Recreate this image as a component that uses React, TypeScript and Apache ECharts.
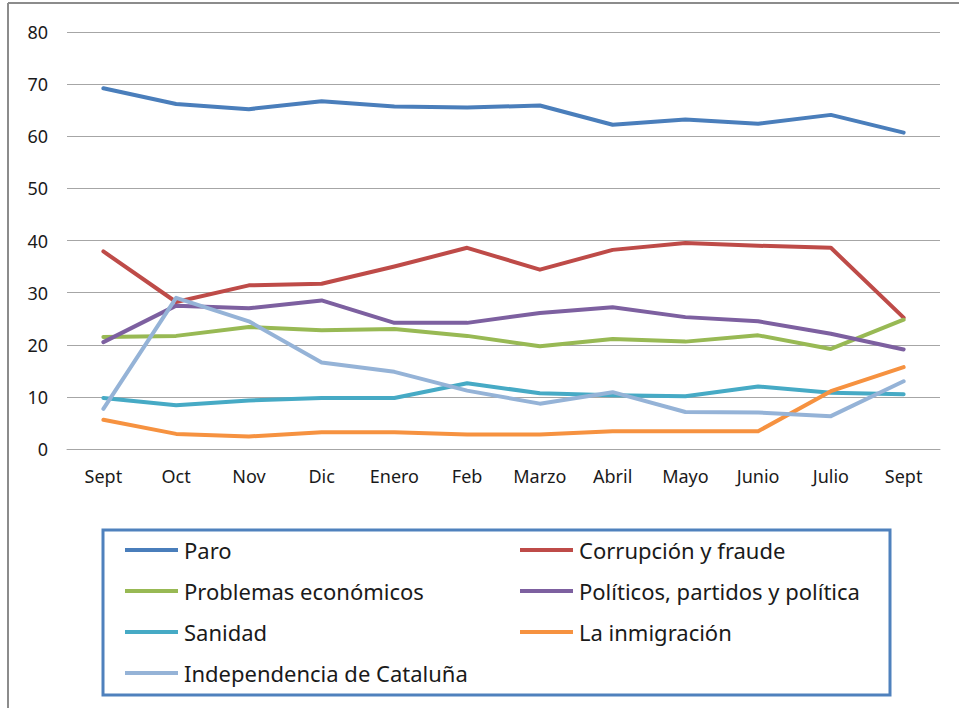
import React, { useEffect, useRef } from "react";
import * as echarts from "echarts";

const categories = ["Sept", "Oct", "Nov", "Dic", "Enero", "Feb", "Marzo", "Abril", "Mayo", "Junio", "Julio", "Sept"];

const paro = [69.2, 66.2, 65.2, 66.7, 65.7, 65.5, 65.9, 62.2, 63.2, 62.4, 64.1, 60.7];
const corrupcion = [37.9, 28.2, 31.4, 31.7, 35.0, 38.6, 34.4, 38.2, 39.5, 39.0, 38.6, 25.2];
const problemasEconomicos = [21.5, 21.7, 23.4, 22.8, 23.0, 21.7, 19.7, 21.1, 20.6, 21.8, 19.2, 24.8];
const politicos = [20.5, 27.5, 27.0, 28.5, 24.2, 24.2, 26.1, 27.2, 25.3, 24.5, 22.1, 19.1];
const sanidad = [9.8, 8.4, 9.3, 9.8, 9.8, 12.6, 10.7, 10.3, 10.1, 12.0, 10.8, 10.5];
const inmigracion = [5.6, 2.9, 2.4, 3.2, 3.2, 2.8, 2.8, 3.4, 3.4, 3.4, 11.1, 15.7];
const independencia = [7.7, 29.0, 24.5, 16.6, 14.8, 11.2, 8.7, 10.9, 7.1, 7.0, 6.3, 13.0];

const seriesNames = [
  "Paro",
  "Corrupción y fraude",
  "Problemas económicos",
  "Políticos, partidos y política",
  "Sanidad",
  "La inmigración",
  "Independencia de Cataluña",
];
const seriesData = [paro, corrupcion, problemasEconomicos, politicos, sanidad, inmigracion, independencia];
const seriesColors = ["#4A7EBB", "#BE4B48", "#98B954", "#7D60A0", "#46AAC5", "#F69240", "#95B3D7"];

const leftColumn = seriesNames.filter((_, i) => i % 2 === 0);
const rightColumn = seriesNames.filter((_, i) => i % 2 === 1);

const FONT = "'Noto Sans', sans-serif";

const legendBase = {
  orient: "vertical",
  top: 539,
  itemGap: 19,
  itemWidth: 53,
  itemHeight: 4,
  padding: 0,
  icon: "rect",
  z: 10,
  textStyle: { color: "#1a1a1a", fontFamily: FONT, fontSize: 22, padding: [0, 0, 0, 1] },
};

export default function App() {
  const ref = useRef<HTMLDivElement>(null);

  useEffect(() => {
    document.body.style.margin = "0";
    if (!ref.current) return;
    const chart = echarts.init(ref.current, null, { renderer: "svg" });
    chart.setOption({
      animation: false,
      backgroundColor: "#ffffff",
      grid: { left: 67, right: 19, top: 32, bottom: 259, containLabel: false },
      xAxis: {
        type: "category",
        data: categories,
        boundaryGap: true,
        axisLine: { show: true, lineStyle: { color: "#a6a6a6", width: 1 } },
        axisTick: { show: false },
        axisLabel: { color: "#1a1a1a", fontFamily: FONT, fontSize: 18, margin: 18 },
      },
      yAxis: {
        type: "value",
        min: 0,
        max: 80,
        interval: 10,
        axisLine: { show: false },
        axisTick: { show: false },
        splitLine: { lineStyle: { color: "#a6a6a6", width: 1 } },
        axisLabel: { color: "#1a1a1a", fontFamily: FONT, fontSize: 18, margin: 19 },
      },
      legend: [
        { ...legendBase, data: leftColumn, left: 125 },
        { ...legendBase, data: rightColumn, left: 520 },
      ],
      graphic: [
        {
          type: "line",
          z: 0,
          shape: { x1: 8, y1: 3, x2: 8, y2: 708 },
          style: { stroke: "#8c8c8c", lineWidth: 2 },
        },
        {
          type: "line",
          z: 0,
          shape: { x1: 8, y1: 3, x2: 959, y2: 3 },
          style: { stroke: "#8c8c8c", lineWidth: 2 },
        },
        {
          type: "rect",
          z: 1,
          shape: { x: 103, y: 530, width: 787, height: 165 },
          style: { fill: "#ffffff", stroke: "#4F81BD", lineWidth: 3 },
        },
      ],
      series: seriesNames.map((name, i) => ({
        name,
        type: "line",
        data: seriesData[i],
        symbol: "none",
        showSymbol: false,
        color: seriesColors[i],
        lineStyle: { width: 4, color: seriesColors[i], cap: "round", join: "round" },
        z: 2 + i,
      })),
    });
    return () => chart.dispose();
  }, []);

  return <div ref={ref} style={{ width: 959, height: 708 }} />;
}
